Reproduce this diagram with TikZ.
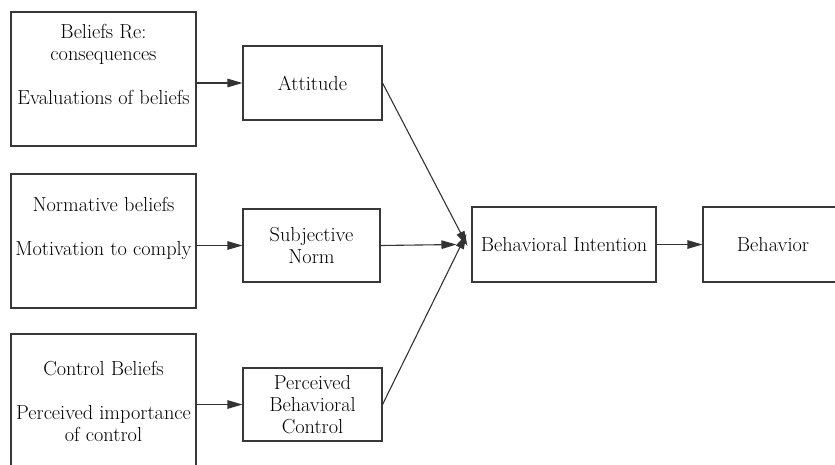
\documentclass[tikz,border=0pt]{standalone}
\usetikzlibrary{arrows.meta}
\begin{document}
\begin{tikzpicture}[x=1pt,y=-1pt,
  box/.style={draw=black!78,line width=1.1pt,fill=white,align=center,inner sep=0pt,
    font=\fontsize{20.3}{22}\selectfont},
  arr/.style={draw=black!80,line width=1.1pt,-{Triangle[length=15pt,width=8.5pt]}}]
\useasboundingbox (0,0) rectangle (835,464);
\clip (0,0) rectangle (835,464);
% left column
\node[box,minimum width=185pt,minimum height=134pt] (b1) at (103.5,79)
  {Beliefs Re:\\consequences\\\strut\\Evaluations of beliefs\\\strut};
\node[box,minimum width=185pt,minimum height=134pt] (b2) at (103.5,241)
  {Normative beliefs\\\strut\\Motivation to comply\\\strut};
\node[box,minimum width=185pt,minimum height=134pt] (b3) at (103.5,401)
  {Control Beliefs\\\strut\\Perceived importance\\of control};
% middle column
\node[box,minimum width=139pt,minimum height=74pt] (att) at (312.5,83) {Attitude};
\node[box,minimum width=137pt,minimum height=73pt] (sn) at (311.5,245.5) {Subjective\\Norm};
\node[box,minimum width=139pt,minimum height=73pt] (pbc) at (312.5,404.5) {Perceived\\Behavioral\\Control};
% right
\node[box,minimum width=184pt,minimum height=75pt] (bi) at (564,244.5) {Behavioral Intention};
\node[box,minimum width=140pt,minimum height=75pt] (beh) at (773,244.5) {Behavior};
% arrows
\draw[arr] (b1.east |- att.west) -- (att.west);
\draw[arr] (b2.east |- sn.west) -- (sn.west);
\draw[arr] (b3.east |- pbc.west) -- (pbc.west);
\coordinate (t1) at ([xshift=-4pt,yshift=-1.5pt]bi.west);
\coordinate (t2) at ([xshift=-15pt]bi.west);
\coordinate (t3) at ([xshift=-5pt,yshift=10.5pt]bi.west);
\draw[arr] (att.east) -- (t1);
\draw[arr] (sn.east) -- (t2);
\draw[arr] (pbc.east) -- (t3);
\draw[arr] (bi.east) -- (beh.west);
\end{tikzpicture}
\end{document}
